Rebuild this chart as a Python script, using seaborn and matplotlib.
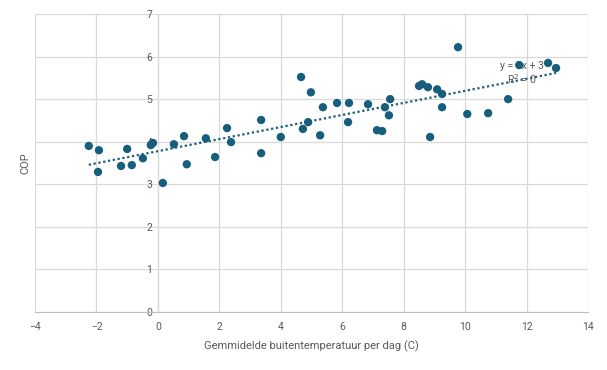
import numpy as np
import pandas as pd
import seaborn as sns
import matplotlib.pyplot as plt

temp = [-2.25, -1.92, -1.95, -1.2, -1.0, -0.85, -0.49, -0.23, -0.16, 0.16,
        0.52, 0.85, 0.94, 1.56, 1.86, 2.25, 2.38, 3.36, 3.36, 4.0,
        4.66, 4.72, 4.89, 4.98, 5.28, 5.37, 5.83, 6.22, 6.19, 6.84,
        7.13, 7.30, 7.39, 7.56, 7.52, 8.5, 8.6, 8.79, 8.86, 9.09,
        9.25, 9.25, 9.77, 10.07, 10.75, 11.4, 11.76, 12.7, 12.96]
cop = [3.90, 3.80, 3.29, 3.43, 3.83, 3.45, 3.61, 3.92, 3.97, 3.03,
       3.94, 4.13, 3.47, 4.08, 3.64, 4.32, 3.99, 4.51, 3.73, 4.11,
       5.52, 4.30, 4.46, 5.16, 4.15, 4.81, 4.91, 4.91, 4.46, 4.88,
       4.27, 4.25, 4.81, 5.00, 4.62, 5.31, 5.35, 5.28, 4.11, 5.23,
       5.12, 4.81, 6.22, 4.65, 4.67, 5.00, 5.80, 5.85, 5.73]
xticks = list(range(-4, 15, 2))
yticks = list(range(0, 8))

df = pd.DataFrame({'temp': temp, 'cop': cop})

sns.set_style('white')
plt.rcParams['font.family'] = ['Roboto', 'DejaVu Sans']

fig = plt.figure(figsize=(6.07, 3.70), dpi=100)
ax = fig.add_axes([0.0577, 0.1568, 0.911, 0.8054])

pt = '#175e7c'
grey = '#595959'

# trendline
k, b = np.polyfit(df['temp'], df['cop'], 1)
xs = np.array([df['temp'].min(), df['temp'].max()])
ax.plot(xs, k * xs + b, color=pt, lw=1.6, ls=(0, (1, 1.2)), zorder=2)

sns.scatterplot(data=df, x='temp', y='cop', ax=ax, color=pt, s=36,
                edgecolor='none', zorder=3)

ax.set_xlim(-4, 14)
ax.set_ylim(0, 7)
ax.set_xticks(xticks)
ax.set_yticks(yticks)
ax.grid(True, color='#d9d9d9', lw=0.9)
ax.set_axisbelow(True)
for s in ['top', 'right']:
    ax.spines[s].set_visible(False)
ax.spines['left'].set_position(('data', 0))
ax.spines['left'].set_color('#d9d9d9')
ax.spines['left'].set_zorder(0.5)
ax.spines['bottom'].set_color('#bfbfbf')
ax.tick_params(length=0, labelsize=7.5, colors=grey, pad=4)
ax.tick_params(axis='x', pad=7)

ax.set_xlabel('Gemmidelde buitentemperatuur per dag (C)', fontsize=8, color=grey, labelpad=6)
ax.set_ylabel('')
fig.text(0.041, 0.56, 'COP', rotation=90, fontsize=8, color=grey, ha='center', va='center')

ax.text(11.86, 5.78, 'y = 0x + 3', fontsize=7.5, color=grey, ha='center', va='center', zorder=2.5)
ax.text(11.86, 5.46, 'R$^2$ = 0', fontsize=7.5, color=grey, ha='center', va='center', zorder=2.5)

fig.savefig('out.png', dpi=100)
